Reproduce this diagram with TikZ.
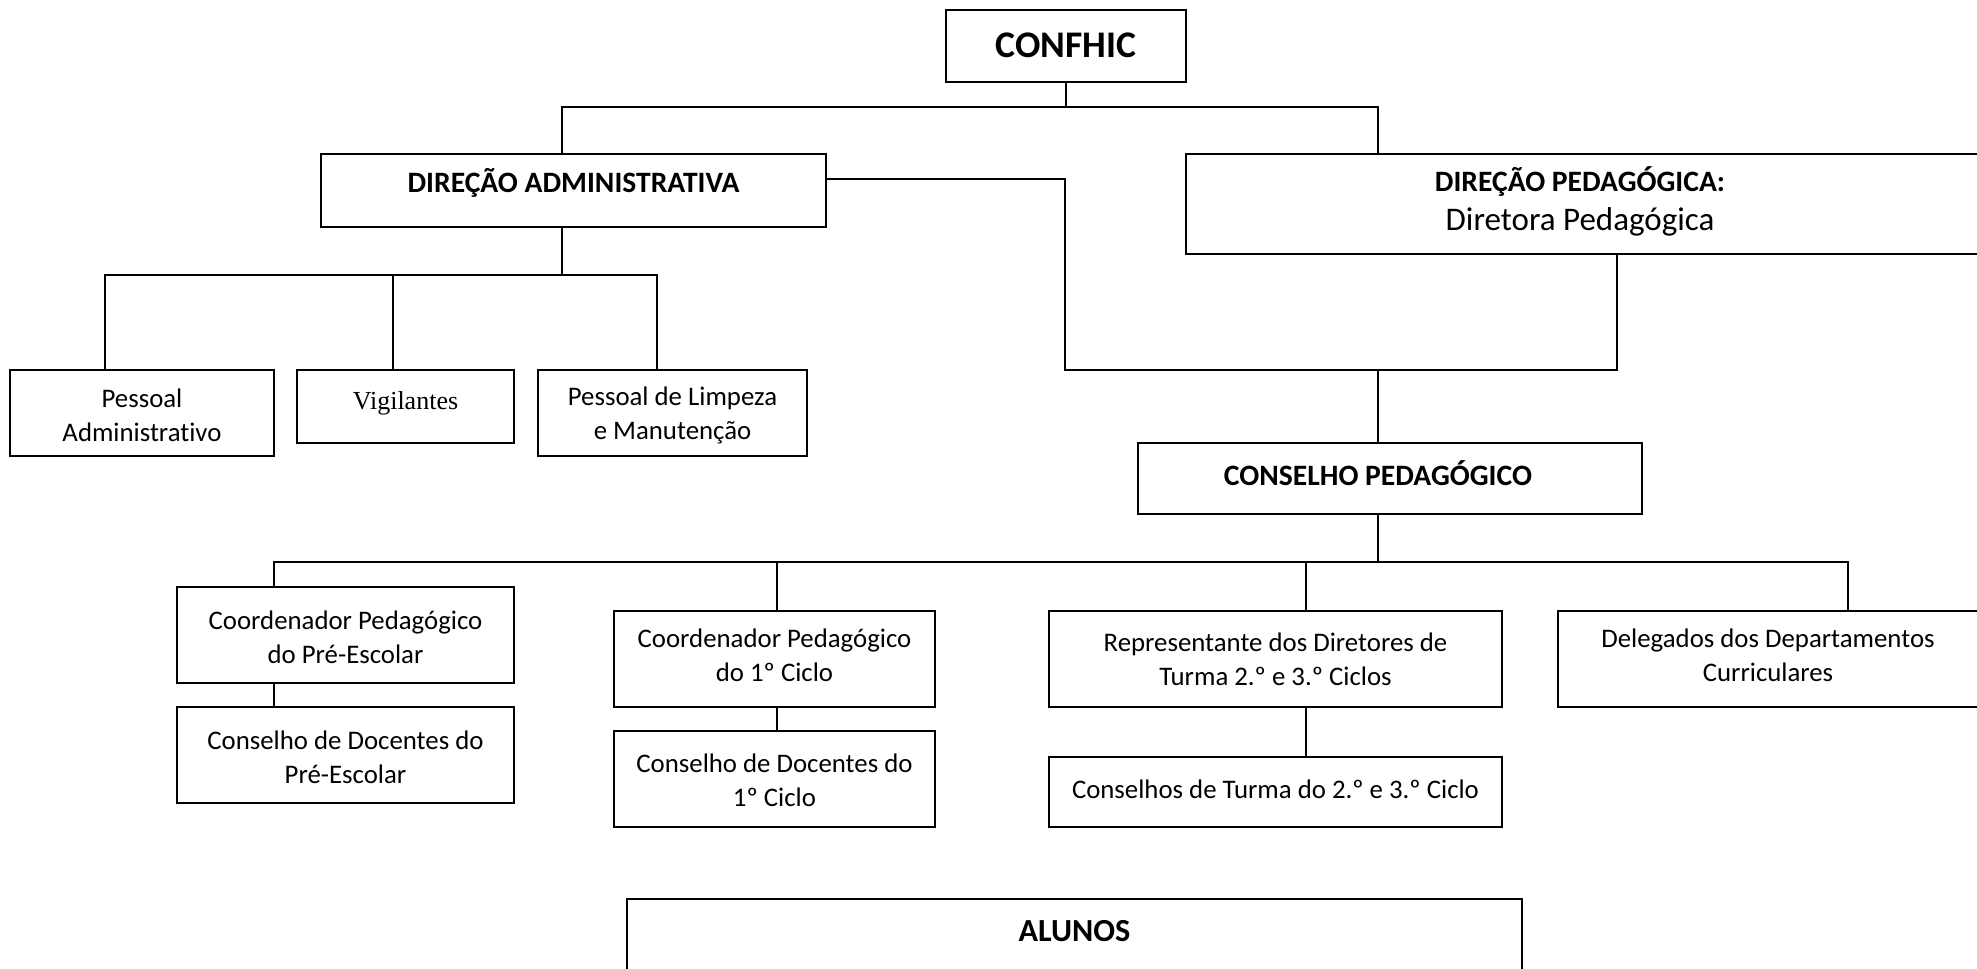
\documentclass[tikz,border=0pt]{standalone}
\usepackage{fontspec}
\setmainfont{Carlito}[Ligatures=NoCommon]
\newfontfamily\timesfont{Liberation Serif}
\begin{document}
\begin{tikzpicture}[x=0.5pt,y=-0.5pt,
  box/.style={draw, line width=1.1pt, inner sep=0pt, fill=none},
  conn/.style={line width=0.8pt},
  txt/.style={align=center, inner sep=0pt, font=\fontsize{13.4}{17}\selectfont},
  hd/.style={align=center, inner sep=0pt, font=\fontsize{14.8}{17}\selectfont\bfseries}]
\useasboundingbox (0,0) rectangle (1977,969);
\clip (0,0) rectangle (1977,969);
% boxes
\node[box, minimum width=120pt, minimum height=36pt] (conf) at (1066,46) {};
\node[box, minimum width=252.5pt, minimum height=36.5pt] (da) at (573.5,190.5) {};
\node[box, minimum width=402pt, minimum height=50pt] (dp) at (1588,204) {};
\node[box, minimum width=132pt, minimum height=43pt] (pa) at (142,413) {};
\node[box, minimum width=108.5pt, minimum height=36.5pt] (vig) at (405.5,406.5) {};
\node[box, minimum width=134.5pt, minimum height=43pt] (lim) at (672.5,413) {};
\node[box, minimum width=252pt, minimum height=35.5pt] (cp) at (1390,478.5) {};
\node[box, minimum width=168.5pt, minimum height=48pt] (cpre) at (345.5,635) {};
\node[box, minimum width=168.5pt, minimum height=48pt] (dpre) at (345.5,755) {};
\node[box, minimum width=160.5pt, minimum height=48pt] (c1) at (774.5,659) {};
\node[box, minimum width=160.5pt, minimum height=48pt] (d1) at (774.5,779) {};
\node[box, minimum width=226.5pt, minimum height=48pt] (rep) at (1275.5,659) {};
\node[box, minimum width=216pt, minimum height=48pt] (del) at (1774,659) {};
\node[box, minimum width=226.5pt, minimum height=35pt] (ct) at (1275.5,792) {};
\node[box, minimum width=447.5pt, minimum height=45.5pt] (alu) at (1074.5,944.5) {};
% texts
\node[hd, font=\fontsize{18.8}{22}\selectfont\bfseries] (tconf) at (1066,45) {CONFHIC};
\node[hd] (tda) at (573.5,183) {DIREÇÃO ADMINISTRATIVA};
\node[hd] (tdp1) at (1580,182) {DIREÇÃO PEDAGÓGICA:};
\node[txt, font=\fontsize{16.5}{20}\selectfont] (tdp2) at (1580,222) {Diretora Pedagógica};
\node[txt] (tpa) at (142,415) {Pessoal\\Administrativo};
\node[txt, font=\fontsize{13}{17}\timesfont] (tvig) at (405.5,403) {Vigilantes};
\node[txt] (tlim) at (672.5,415) {Pessoal de Limpeza\\e Manutenção};
\node[hd] (tcp) at (1378,473) {CONSELHO PEDAGÓGICO};
\node[txt] (tcpre) at (345.5,637) {Coordenador Pedagógico\\do Pré-Escolar};
\node[txt] (tdpre) at (345.5,757) {Conselho de Docentes do\\Pré-Escolar};
\node[txt] (tc1) at (774.5,655.5) {Coordenador Pedagógico\\do 1º Ciclo};
\node[txt] (td1) at (774.5,780.5) {Conselho de Docentes do\\1º Ciclo};
\node[txt] (trep) at (1275.5,659.5) {Representante dos Diretores de\\Turma 2.º e 3.º Ciclos};
\node[txt] (tdel) at (1768,655.5) {Delegados dos Departamentos\\Curriculares};
\node[txt] (tct) at (1275.5,789) {Conselhos de Turma do 2.º e 3.º Ciclo};
\node[hd, font=\fontsize{16.1}{20}\selectfont\bfseries] (talu) at (1074.5,931) {ALUNOS};
% coordinates
\coordinate (t1) at (562,107);
\coordinate (t2) at (1378,107);
\coordinate (m1) at (1065,179);
\coordinate (m2) at (1065,370);
\coordinate (m3) at (1617,370);
\coordinate (m4) at (1378,370);
\coordinate (b0) at (562,275);
\coordinate (b1) at (105,275);
\coordinate (b2) at (393,275);
\coordinate (b3) at (657,275);
\coordinate (c0) at (1378,562);
\coordinate (cL) at (274,562);
\coordinate (c2) at (777,562);
\coordinate (c3) at (1306,562);
\coordinate (cR) at (1848,562);
% connectors
\draw[conn] (conf.south) -- (conf.south |- t1);
\draw[conn] (t1 |- da.north) -- (t1) -- (t2) -- (t2 |- dp.north);
\draw[conn] (da.east |- m1) -- (m1) -- (m2) -- (m3) -- (m3 |- dp.south);
\draw[conn] (m4) -- (m4 |- cp.north);
\draw[conn] (b0 |- da.south) -- (b0);
\draw[conn] (b1 |- pa.north) -- (b1) -- (b3) -- (b3 |- lim.north);
\draw[conn] (b2) -- (b2 |- vig.north);
\draw[conn] (c0 |- cp.south) -- (c0);
\draw[conn] (cL |- cpre.north) -- (cL) -- (cR) -- (cR |- del.north);
\draw[conn] (c2) -- (c2 |- c1.north);
\draw[conn] (c3) -- (c3 |- rep.north);
\draw[conn] (cL |- cpre.south) -- (cL |- dpre.north);
\draw[conn] (c2 |- c1.south) -- (c2 |- d1.north);
\draw[conn] (c3 |- rep.south) -- (c3 |- ct.north);
\end{tikzpicture}
\end{document}
